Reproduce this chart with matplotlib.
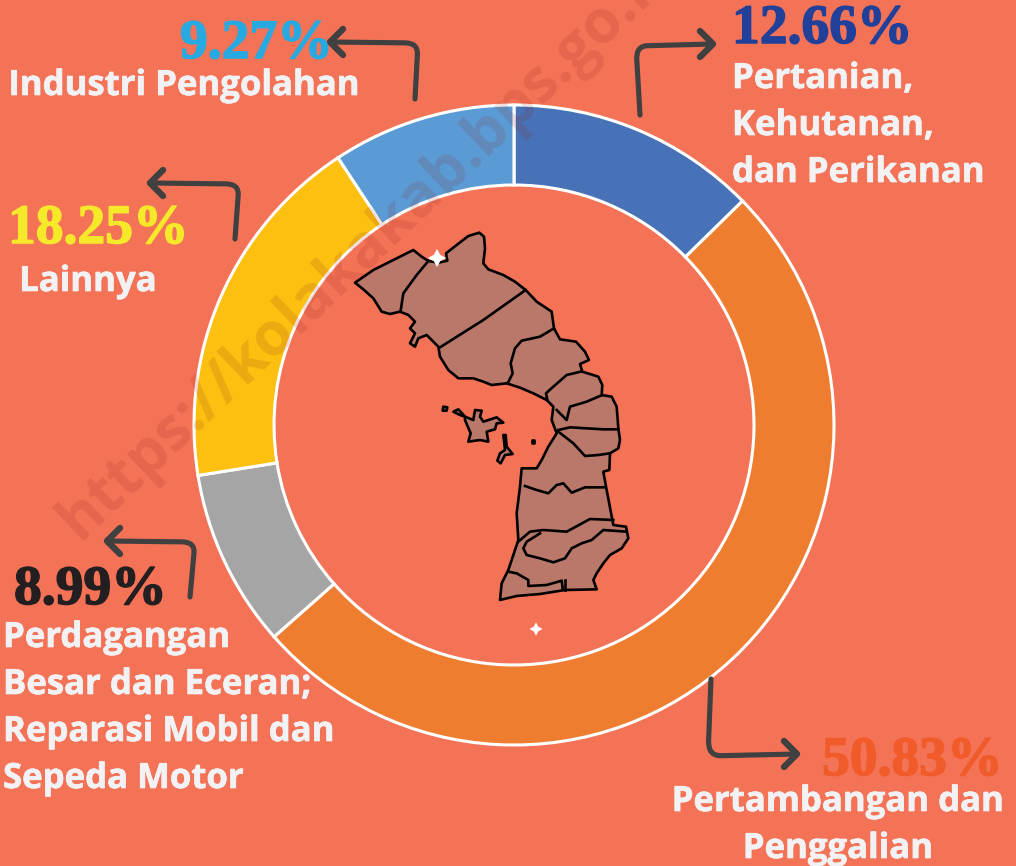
import matplotlib
matplotlib.use("Agg")
import matplotlib.pyplot as plt
import matplotlib.patheffects as pe
from matplotlib.path import Path
from matplotlib.patches import PathPatch, Polygon
import numpy as np

W, H = 1016, 866
BG = "#f47357"

# clockwise from 12 o'clock
sectors = ["Pertanian", "Pertambangan", "Perdagangan", "Lainnya", "Industri"]
shares = [12.66, 50.83, 8.99, 18.25, 9.27]
ring_colors = ["#4872b8", "#ee7d2f", "#a5a5a5", "#fdc010", "#5b9bd5"]

pct_labels = ["12.66%", "50.83%", "8.99%", "18.25%", "9.27%"]
pct_colors = ["#21409a", "#f15a29", "#231f20", "#f5e92a", "#27aae1"]
pct_xy = [(732, 43), (822, 775), (14, 604), (8, 243), (180, 58)]

names = [["Pertanian,", "Kehutanan,", "dan Perikanan"],
         ["Pertambangan dan", "Penggalian"],
         ["Perdagangan", "Besar dan Eceran;", "Reparasi Mobil dan", "Sepeda Motor"],
         ["Lainnya"],
         ["Industri Pengolahan"]]
name_xy = [(732, 88), (838, 811), (3, 647), (88, 291), (184, 95)]
name_ha = ["left", "center", "left", "center", "center"]
LINE_H = 47

# start, corner, end of each callout arrow
arrows = [((640, 115), (636, 46), (713, 44)),
          ((711, 679), (708, 756), (797, 754)),
          ((190, 597), (195, 542), (107, 541)),
          ((235, 239), (239, 184), (150, 183)),
          ((415, 99), (418, 43), (330, 42))]

# map outline, pixels from (340, 220) at 3x
coast = [(45,188),(100,150),(150,125),(220,90),(245,110),(265,123),(295,128),(322,122),
         (318,100),(350,75),(385,48),(418,38),(432,50),(435,85),(430,130),(445,148),
         (490,165),(525,185),(557,210),(590,245),(635,275),(642,325),(660,358),(708,365),
         (735,395),(747,420),(720,432),(727,455),(775,470),(787,495),(785,525),(815,530),
         (830,560),(835,625),(840,660),(835,685),(810,700),(808,750),(790,755),(800,810),
         (820,915),(858,920),(865,955),(845,985),(810,1005),(790,1030),(770,1060),(760,1080),
         (770,1108),(675,1110),(600,1122),(530,1128),(480,1140),(485,1090),(505,1050),
         (525,990),(535,960),(530,880),(540,800),(545,745),(570,745),(590,745),(605,720),
         (625,680),(650,640),(635,600),(640,560),(620,540),(580,520),(540,503),(500,490),
         (455,495),(430,485),(400,475),(355,475),(325,450),(300,410),(295,380),(260,345),
         (235,355),(225,380),(210,370),(225,340),(210,325),(225,305),(205,285),(180,275),
         (150,282),(125,275),(100,235),(70,208)]
islands = [[(375,590),(400,600),(405,570),(425,572),(420,590),(430,605),(470,592),(490,608),
            (470,610),(465,628),(440,635),(445,665),(420,660),(385,665),(392,640),(375,600)],
           [(340,575),(355,568),(375,590),(360,585)],
           [(310,560),(322,562),(320,572),(308,572)],
           [(575,660),(583,660),(583,668),(575,668)],
           [(490,645),(497,645),(500,680),(518,702),(495,705),(482,730),(472,722),(480,700),(495,690)]]
borders = [[(265,123),(230,165),(190,220),(182,272)],
           [(557,210),(430,300),(300,382)],
           [(642,325),(600,350),(545,362),(525,385),(512,430),(518,460),(503,490)],
           [(722,455),(680,465),(640,500),(618,520),(622,540)],
           [(787,525),(740,545),(690,560),(680,600),(650,570)],
           [(655,630),(690,622),(740,625),(790,628),(835,628)],
           [(655,635),(700,670),(735,708),(775,705),(810,700)],
           [(555,798),(590,810),(625,820),(650,795),(670,790),(695,818),(735,802),(795,802)],
           [(535,965),(570,935),(610,930),(680,935),(750,897),(820,900)],
           [(858,935),(790,930),(755,960),(725,970),(695,985),(675,1015),(640,1027),(600,1015),
            (560,1005),(550,985),(560,965),(600,940)],
           [(505,1055),(530,1060),(565,1080),(565,1098),(620,1095),(665,1082),(668,1105)],
           [(675,1080),(675,1110)]]


def mapxy(pts):
    return [(340 + x / 3, 220 + y / 3) for x, y in pts]


fig = plt.figure(figsize=(W / 100, H / 100), dpi=100, facecolor=BG)
ax = fig.add_axes([0, 0, 1, 1])

wedges, _ = ax.pie(shares, colors=ring_colors, center=(514, 425), radius=320, startangle=270,
                   counterclock=True, frame=True,
                   wedgeprops=dict(width=80, edgecolor="white", linewidth=2.2))
ax.set_xlim(0, W)
ax.set_ylim(H, 0)
ax.set_aspect("equal")
ax.axis("off")

# map
for shape in [coast] + islands:
    ax.add_patch(Polygon(mapxy(shape), closed=True, fc="#b9786a", ec="black", lw=1.9,
                         joinstyle="round", zorder=3))
for line in borders:
    xs, ys = zip(*mapxy(line))
    ax.plot(xs, ys, color="black", lw=1.9, zorder=4)
ax.scatter([437, 536], [258, 629], marker=(4, 1, 0), s=[170, 90], color="white", lw=0, zorder=5)

# callouts
for start, corner, end in arrows:
    c0 = (corner[0] + 0.2 * (start[0] - corner[0]), corner[1] + 0.2 * (start[1] - corner[1]))
    c1 = (corner[0] + 0.15 * (end[0] - corner[0]), corner[1] + 0.15 * (end[1] - corner[1]))
    p = Path([start, c0, corner, c1, end],
             [Path.MOVETO, Path.LINETO, Path.CURVE3, Path.CURVE3, Path.LINETO])
    ax.add_patch(PathPatch(p, fc="none", ec="#404040", lw=3.7, capstyle="round", zorder=6))
    sgn = np.sign(corner[0] - end[0])
    head = [(end[0] + sgn * 13, end[1] - 13), end, (end[0] + sgn * 13, end[1] + 13)]
    xs, ys = zip(*head)
    ax.plot(xs, ys, color="#404040", lw=4.6, solid_capstyle="round", solid_joinstyle="round", zorder=6)

# texts
for lab, col, (x, y) in zip(pct_labels, pct_colors, pct_xy):
    t = ax.text(x, y, lab, color=col, fontsize=40, family="Liberation Serif", weight="bold",
                ha="left", va="baseline", zorder=7)
    t.set_path_effects([pe.withStroke(linewidth=1.1, foreground=col)])
for lines, (x, y), ha in zip(names, name_xy, name_ha):
    for i, lab in enumerate(lines):
        t = ax.text(x, y + i * LINE_H, lab, color="#f2f2f5", fontsize=25, family="Open Sans",
                    weight="bold", ha=ha, va="baseline", zorder=7)
        t.set_path_effects([pe.withStroke(linewidth=0.5, foreground="#f2f2f5")])

ax.text(68, 530, "https://kolakakab.bps.go.id", color="#8a1a10", alpha=0.14, fontsize=43.5,
        family="Open Sans", weight="bold", rotation=43.5, rotation_mode="anchor",
        ha="left", va="center", zorder=8)

fig.savefig("out.png", dpi=100, facecolor=BG)
